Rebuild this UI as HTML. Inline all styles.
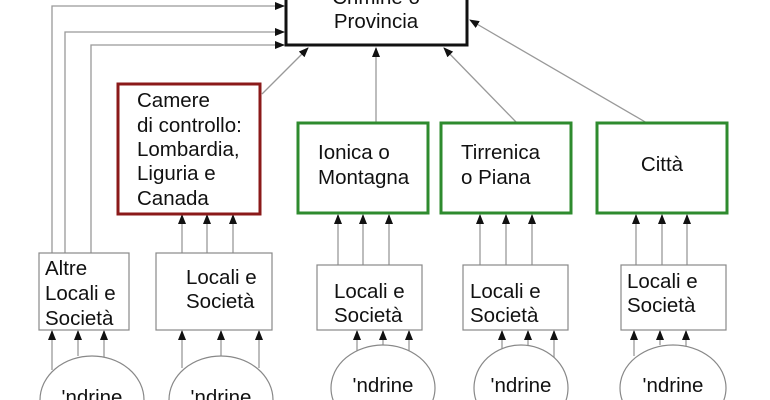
<!DOCTYPE html>
<html><head><meta charset="utf-8"><style>html,body{margin:0;padding:0;background:#fff;overflow:hidden}svg{display:block}</style></head>
<body>
<svg width="770" height="400" viewBox="0 0 770 400" xmlns="http://www.w3.org/2000/svg" font-family="Liberation Sans, sans-serif" font-size="20.5" fill="#111">
<defs><marker id="a" markerWidth="10" markerHeight="10" refX="9" refY="4" orient="auto" markerUnits="userSpaceOnUse"><path d="M0,0 L10,4 L0,8 z" fill="#111"/></marker></defs>
<g stroke="#999" stroke-width="1.3" fill="none" marker-end="url(#a)">
<polyline points="52,253 52,6 284,6"/>
<polyline points="65,253 65,32 284,32"/>
<polyline points="91,253 91,45 284,45"/>
<line x1="262" y1="94" x2="308" y2="48"/>
<line x1="376" y1="123" x2="376" y2="48"/>
<line x1="517" y1="123" x2="444" y2="48"/>
<line x1="647" y1="123" x2="470" y2="20"/>
<line x1="182" y1="253" x2="182" y2="215"/><line x1="207" y1="253" x2="207" y2="215"/><line x1="233" y1="253" x2="233" y2="215"/>
<line x1="338" y1="265" x2="338" y2="215"/><line x1="363" y1="265" x2="363" y2="215"/><line x1="389" y1="265" x2="389" y2="215"/>
<line x1="480" y1="265" x2="480" y2="215"/><line x1="506" y1="265" x2="506" y2="215"/><line x1="532" y1="265" x2="532" y2="215"/>
<line x1="636" y1="265" x2="636" y2="215"/><line x1="662" y1="265" x2="662" y2="215"/><line x1="687" y1="265" x2="687" y2="215"/>
<line x1="52" y1="370" x2="52" y2="331"/><line x1="78" y1="356" x2="78" y2="331"/><line x1="104" y1="358" x2="104" y2="331"/>
<line x1="182" y1="368" x2="182" y2="331"/><line x1="221" y1="356" x2="221" y2="331"/><line x1="259" y1="368" x2="259" y2="331"/>
<line x1="357" y1="356" x2="357" y2="331"/><line x1="383" y1="345" x2="383" y2="331"/><line x1="409" y1="356" x2="409" y2="331"/>
<line x1="502" y1="356" x2="502" y2="331"/><line x1="528" y1="345" x2="528" y2="331"/><line x1="554" y1="370" x2="554" y2="331"/>
<line x1="634" y1="356" x2="634" y2="331"/><line x1="660" y1="345" x2="660" y2="331"/><line x1="686" y1="356" x2="686" y2="331"/>
</g>
<rect x="286" y="-20" width="181" height="65" fill="#fff" stroke="#111" stroke-width="3"/>
<text x="376" y="4" text-anchor="middle">Crimine o</text>
<text x="376" y="28" text-anchor="middle">Provincia</text>
<rect x="118" y="84" width="142" height="130" fill="#fff" stroke="#8b1a1a" stroke-width="3"/>
<text x="137" y="107">Camere</text><text x="137" y="132">di controllo:</text><text x="137" y="156">Lombardia,</text><text x="137" y="180">Liguria e</text><text x="137" y="205">Canada</text>
<g fill="#fff" stroke="#2e8b2e" stroke-width="3">
<rect x="298" y="123" width="130" height="90"/><rect x="441" y="123" width="130" height="90"/><rect x="597" y="123" width="130" height="90"/></g>
<text x="318" y="159">Ionica o</text><text x="318" y="184">Montagna</text>
<text x="461" y="159">Tirrenica</text><text x="461" y="184">o Piana</text>
<text x="662" y="171" text-anchor="middle">Città</text>
<g fill="#fff" stroke="#888" stroke-width="1.2">
<rect x="39" y="253" width="90" height="77"/><rect x="156" y="253" width="116" height="77"/>
<rect x="317" y="265" width="105" height="65"/><rect x="463" y="265" width="105" height="65"/><rect x="621" y="265" width="105" height="65"/>
<ellipse cx="92" cy="400" rx="52" ry="44"/><ellipse cx="221" cy="400" rx="52" ry="44"/>
<ellipse cx="383" cy="388" rx="52" ry="43"/><ellipse cx="521" cy="388" rx="47" ry="43"/><ellipse cx="673" cy="388" rx="53" ry="43"/></g>
<text x="45" y="275">Altre</text><text x="45" y="300">Locali e</text><text x="45" y="325">Società</text>
<text x="186" y="284">Locali e</text><text x="186" y="308">Società</text>
<text x="334" y="298">Locali e</text><text x="334" y="322">Società</text>
<text x="470" y="298">Locali e</text><text x="470" y="322">Società</text>
<text x="627" y="288">Locali e</text><text x="627" y="312">Società</text>
<g text-anchor="middle"><text x="92" y="404">'ndrine</text><text x="221" y="404">'ndrine</text>
<text x="383" y="392">'ndrine</text><text x="521" y="392">'ndrine</text><text x="673" y="392">'ndrine</text></g>
</svg>
</body></html>
